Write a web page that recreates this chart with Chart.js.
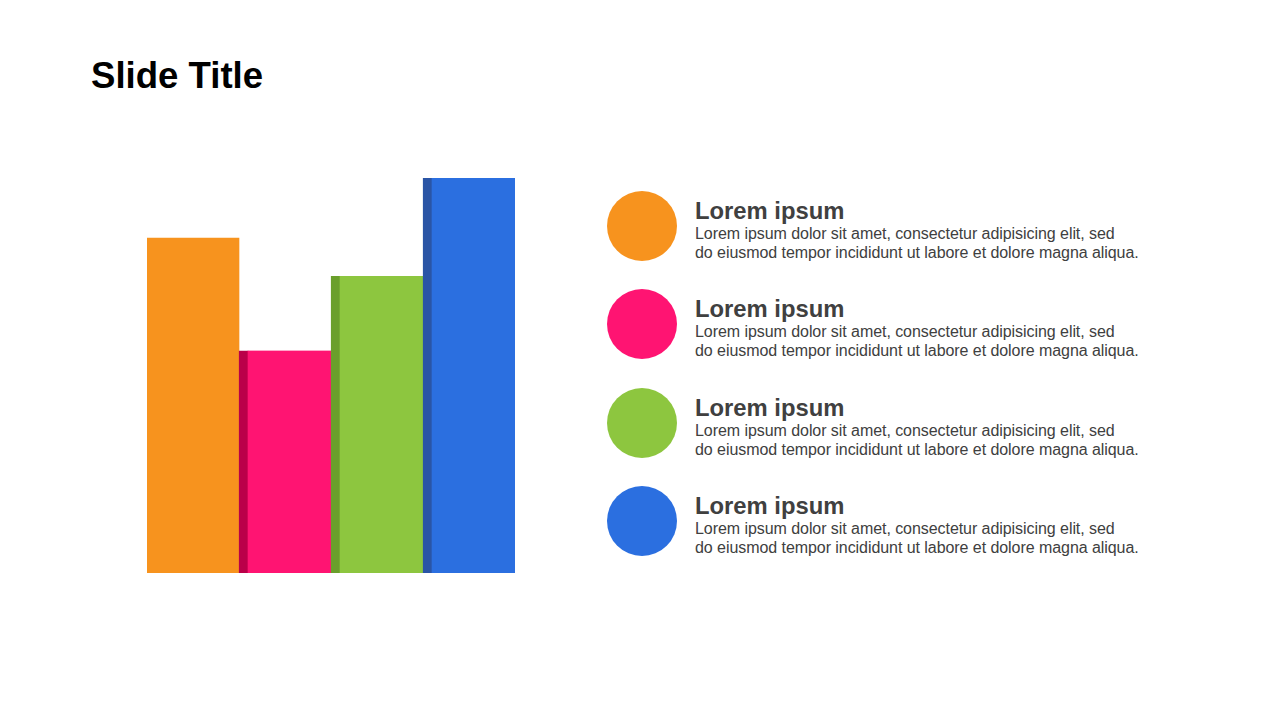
<!DOCTYPE html>
<html>
<head>
<meta charset="utf-8">
<script src="https://cdn.jsdelivr.net/npm/chart.js@4"></script>
<style>
    html, body { margin: 0; padding: 0; background: #fff; }
    body { width: 1280px; height: 720px; position: relative; overflow: hidden; font-family: "Liberation Sans", Arial, sans-serif; }
    .title { position: absolute; left: 91px; top: 56px; font-size: 36.6px; font-weight: bold; color: #000; line-height: 40px; }
    .chart-box { position: absolute; left: 147px; top: 178px; width: 368px; height: 395px; }
    .item { position: absolute; left: 607px; height: 70px; width: 600px; }
    .dot { position: absolute; left: 0; top: 0; width: 70px; height: 70px; border-radius: 50%; }
    .text { position: absolute; left: 88px; top: 8px; color: #404040; }
    .text h3 { margin: 0; font-size: 23.8px; line-height: 24px; font-weight: bold; }
    .text p { margin: 1px 0 0; font-size: 16px; line-height: 19px; letter-spacing: -0.06px; }
</style>
</head>
<body>
<div class="title">Slide Title</div>
<div class="chart-box"><canvas id="barChart"></canvas></div>
<div id="legendList"></div>

<script>
const categories = ['A', 'B', 'C', 'D'];
const values = [84.8, 56.3, 75.2, 100];
const barColors = ['#F7931E', '#FF1472', '#8DC63F', '#2B6FE0'];
const edgeColors = ['#F7931E', '#BA0049', '#6A9F2B', '#2A55A6'];
const headings = ['Lorem ipsum', 'Lorem ipsum', 'Lorem ipsum', 'Lorem ipsum'];
const descLine1 = 'Lorem ipsum dolor sit amet, consectetur  adipisicing elit, sed';
const descLine2 = 'do eiusmod tempor incididunt ut labore et dolore magna aliqua.';

// legend on the right
document.getElementById('legendList').innerHTML = categories.map((c, i) => `
    <div class="item" style="top:${191 + i * 98.3}px">
        <div class="dot" style="background:${barColors[i]}"></div>
        <div class="text">
            <h3>${headings[i]}</h3>
            <p>${descLine1}<br>${descLine2}</p>
        </div>
    </div>
`).join('');

const ctx = document.getElementById('barChart').getContext('2d');
new Chart(ctx, {
    type: 'bar',
    data: {
        labels: categories,
        datasets: [{
            data: values,
            backgroundColor: barColors,
            borderColor: edgeColors,
            // darker strip on the left of bars 2-4
            borderWidth: values.map((v, i) => i === 0 ? 0 : { left: 9, right: 0, top: 0, bottom: 0 }),
            borderSkipped: 'start',
            categoryPercentage: 1,
            barPercentage: 1
        }]
    },
    options: {
        responsive: true,
        maintainAspectRatio: false,
        animation: false,
        layout: { padding: 0 },
        plugins: { legend: { display: false }, tooltip: { enabled: false } },
        events: [],
        scales: {
            x: { display: false },
            y: { display: false, min: 0, max: 100 }
        }
    }
});
</script>
</body>
</html>
